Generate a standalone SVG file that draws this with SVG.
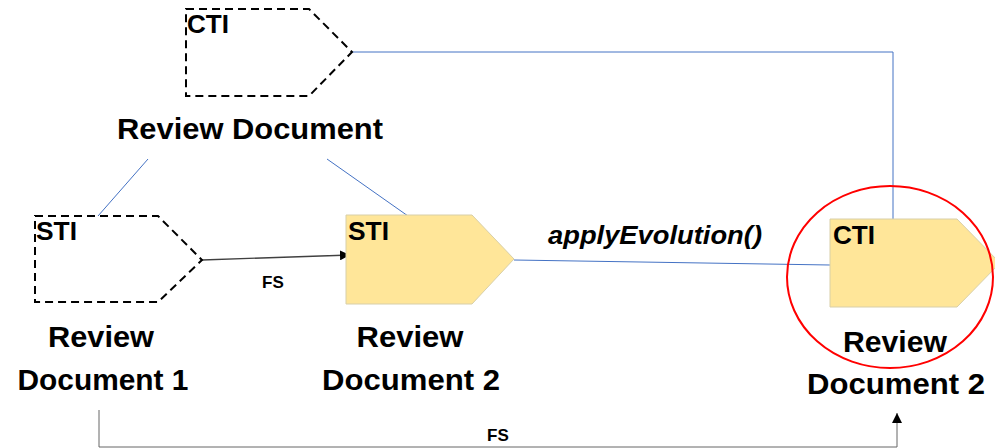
<svg xmlns="http://www.w3.org/2000/svg" width="995" height="448" viewBox="0 0 995 448">
<defs>
<marker id="arr" viewBox="0 0 10 10" refX="10" refY="5" markerWidth="10" markerHeight="10" markerUnits="userSpaceOnUse" orient="auto">
<path d="M0,0 L10,5 L0,10 z" fill="#000"/>
</marker>
<style>
.dash{fill:none;stroke:#000;stroke-width:2;stroke-dasharray:8,5}
.fill{fill:#FFE699;stroke:#D8CFA8;stroke-width:1}
.blue{fill:none;stroke:#4472C4;stroke-width:1}
.gray{fill:none;stroke:#666;stroke-width:1}
.lbl{font-family:"Liberation Sans",Arial,sans-serif;font-weight:bold;fill:#000}
.big{font-size:29px}
.tag{font-size:26px}
.small{font-size:17px}
</style>
</defs>
<rect width="995" height="448" fill="#fff"/>
<g id="connectors">
<polyline class="blue" points="352,52 893,52 893,219"/>
<line class="blue" x1="148" y1="159" x2="98" y2="216"/>
<line class="blue" x1="327" y1="159" x2="408" y2="216"/>
<line class="blue" x1="514" y1="260" x2="830" y2="265"/>
<line x1="202" y1="260" x2="350" y2="255" stroke="#404040" stroke-width="1.3" marker-end="url(#arr)"/>
<polyline class="gray" points="99,410 99,447 897,447 897,413" marker-end="url(#arr)"/>
<text class="lbl small" x="262" y="288">FS</text>
<text class="lbl small" x="487" y="441">FS</text>
<text class="lbl" x="548" y="244" font-size="25" font-style="italic" textLength="214" lengthAdjust="spacingAndGlyphs">applyEvolution()</text>
</g>
<g id="cti-top">
<polygon class="dash" points="186,9 309,9 352,52 309,96 186,96"/>
<text class="lbl tag" x="187" y="33" textLength="42" lengthAdjust="spacingAndGlyphs">CTI</text>
</g>
<g id="review-document">
<text class="lbl big" x="250" y="139" text-anchor="middle" textLength="266" lengthAdjust="spacingAndGlyphs">Review Document</text>
</g>
<g id="sti-dashed">
<polygon class="dash" points="35,216 158,216 202,260 158,302 35,302"/>
<text class="lbl tag" x="36" y="240" textLength="41" lengthAdjust="spacingAndGlyphs">STI</text>
<text class="lbl big" x="101" y="347" text-anchor="middle" textLength="106" lengthAdjust="spacingAndGlyphs">Review</text>
<text class="lbl big" x="103" y="390" text-anchor="middle" textLength="171" lengthAdjust="spacingAndGlyphs">Document 1</text>
</g>
<g id="sti-filled">
<polygon class="fill" points="346,215 472,215 514,259 472,304 346,304"/>
<text class="lbl tag" x="348" y="240" textLength="41" lengthAdjust="spacingAndGlyphs">STI</text>
<text class="lbl big" x="410" y="347" text-anchor="middle" textLength="107" lengthAdjust="spacingAndGlyphs">Review</text>
<text class="lbl big" x="411" y="390" text-anchor="middle" textLength="178" lengthAdjust="spacingAndGlyphs">Document 2</text>
</g>
<g id="cti-filled">
<polygon class="fill" points="830,219 957,219 1000,263 957,307 830,307"/>
<text class="lbl tag" x="833" y="244" textLength="42" lengthAdjust="spacingAndGlyphs">CTI</text>
<text class="lbl big" x="895" y="352" text-anchor="middle" textLength="104" lengthAdjust="spacingAndGlyphs">Review</text>
<text class="lbl big" x="896" y="394" text-anchor="middle" textLength="178" lengthAdjust="spacingAndGlyphs">Document 2</text>
</g>
<g id="highlight">
<ellipse cx="890" cy="277" rx="103" ry="91" fill="none" stroke="#FF0000" stroke-width="2"/>
</g>
</svg>
